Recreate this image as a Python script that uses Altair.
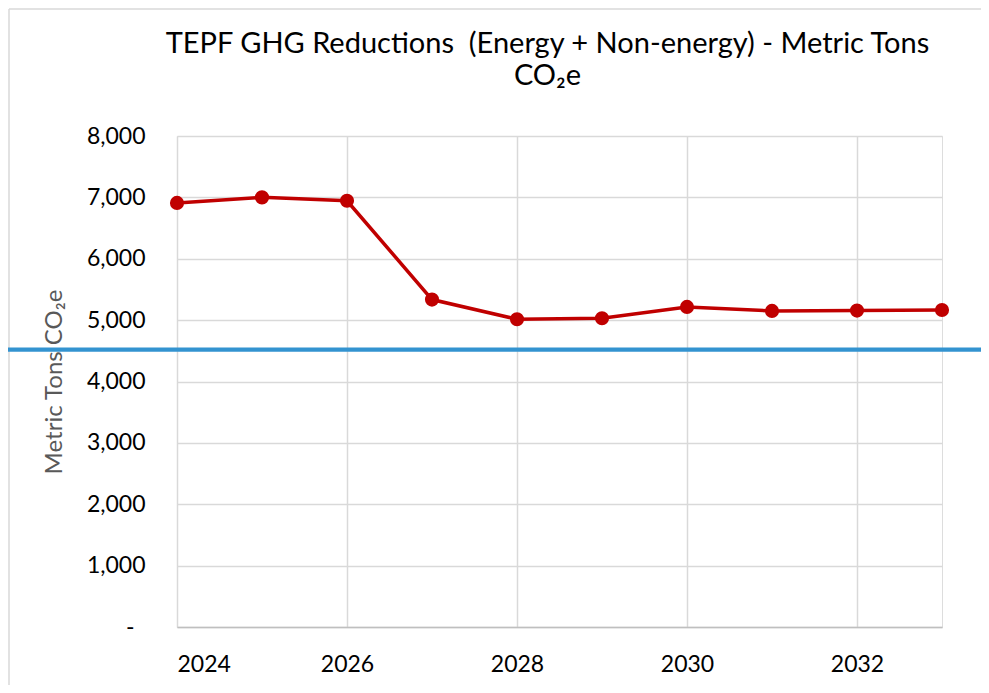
import altair as alt
import pandas as pd

years = [2024, 2025, 2026, 2027, 2028, 2029, 2030, 2031, 2032, 2033]
values = [6910, 7000, 6945, 5335, 5015, 5030, 5215, 5150, 5155, 5165]
target = 4520
x_ticks = [2024, 2026, 2028, 2030, 2032]
y_ticks = [0, 1000, 2000, 3000, 4000, 5000, 6000, 7000, 8000]
title_line1 = "TEPF GHG Reductions \u00a0(Energy + Non-energy) - Metric Tons"
title_line2 = "CO\u2082e"
y_title = "Metric Tons CO\u2082e"

df = pd.DataFrame({"year": years, "value": values})

W, H = 765, 491
PL, PT, PR, PB = 169, 128, 39, 58

x_enc = alt.X(
    "year:Q",
    scale=alt.Scale(domain=[2024, 2033], nice=False, zero=False),
    axis=alt.Axis(
        values=x_ticks, format="d", title=None, labelFont="Lato", labelFontSize=23,
        labelColor="#000000", ticks=False, domainColor="#BFBFBF", domainWidth=1.5,
        gridColor="#D9D9D9", gridWidth=1.5, labelPadding=26, grid=True,
    ),
)
y_axis = alt.Axis(
    values=y_ticks,
    labelExpr="datum.value == 0 ? '-' : format(datum.value, ',')",
    ticks=False, domain=False, grid=True, gridColor="#D9D9D9", gridWidth=1.5,
    labelFont="Lato", labelFontSize=23, labelColor="#000000",
    labelPadding={"condition": {"test": "datum.value === 0", "value": 43}, "value": 32},
    title=y_title, titleX=-116, titleY=245.5, titleFont="Lato", titleFontSize=24,
    titleColor="#595959", titleFontWeight="normal", titleBaseline="alphabetic",
    titleAngle=270,
)
y_enc = alt.Y("value:Q", scale=alt.Scale(domain=[0, 8000], nice=False), axis=y_axis)

base = alt.Chart(df)
line = base.mark_line(color="#C00000", strokeWidth=3.5).encode(x=x_enc, y=y_enc)
points = base.mark_circle(color="#C00000", size=200, opacity=1).encode(x=x_enc, y=y_enc)

rule = alt.Chart(alt.Data(values=[{"t": target}])).mark_rule(
    color="#3393D0", strokeWidth=4.3
).encode(
    y=alt.Y("t:Q", scale=alt.Scale(domain=[0, 8000], nice=False), axis=y_axis),
    x=alt.value(-PL),
    x2=alt.value(W + PR + 10),
)

one = alt.Data(values=[{}])
border_top = alt.Chart(one).mark_rule(color="#D9D9D9", strokeWidth=1.5).encode(
    x=alt.value(-PL + 1), x2=alt.value(W + PR + 10), y=alt.value(-PT + 1)
)
border_left = alt.Chart(one).mark_rule(color="#D9D9D9", strokeWidth=1.5).encode(
    x=alt.value(-PL + 1), y=alt.value(-PT + 1), y2=alt.value(H + PB + 10)
)

title1 = alt.Chart(one).mark_text(
    font="Lato", fontSize=29, color="#000000", align="center", baseline="alphabetic"
).encode(text=alt.value(title_line1), x=alt.value(370.5), y=alt.value(-82.7))
title2 = alt.Chart(one).mark_text(
    font="Lato", fontSize=29, color="#000000", align="center", baseline="alphabetic"
).encode(text=alt.value(title_line2), x=alt.value(370.5), y=alt.value(-51))

chart = alt.layer(border_top, border_left, line, points, rule, title1, title2).properties(
    width=W,
    height=H,
    autosize=alt.AutoSizeParams(type="none"),
    padding={"left": PL, "top": PT, "right": PR, "bottom": PB},
).configure_view(stroke=None).configure(background="white")

chart.save("out.html", embed_options={"renderer": "svg", "actions": False})
